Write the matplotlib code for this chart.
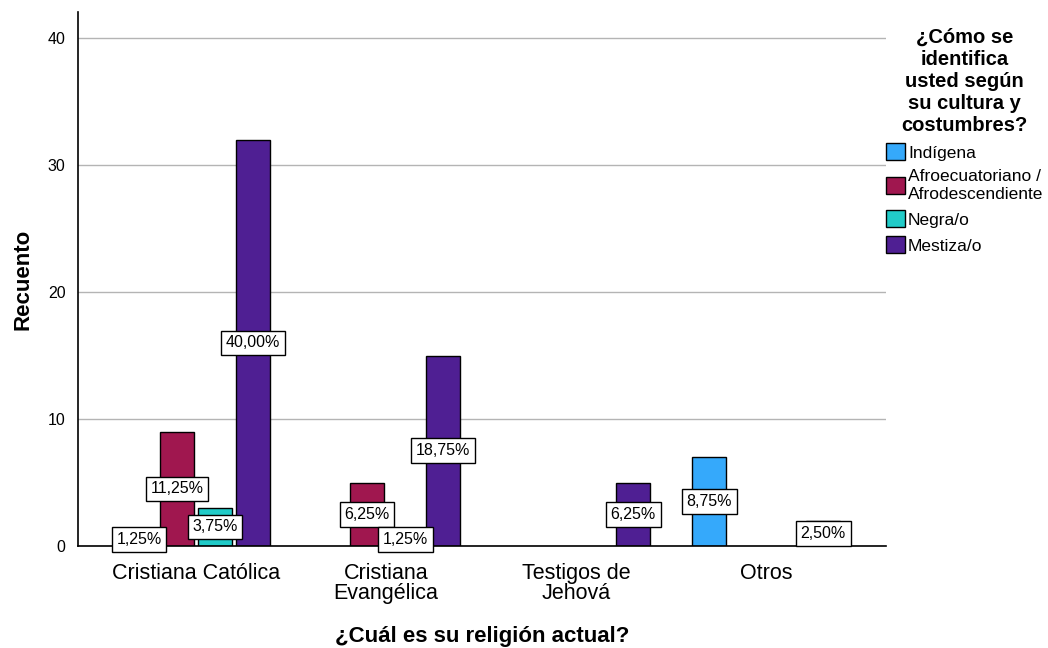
import numpy as np
import matplotlib.pyplot as plt
from matplotlib.patches import Patch

plt.rcParams['font.family'] = ['Liberation Sans', 'DejaVu Sans']

religiones = ["Cristiana Católica", "Cristiana\nEvangélica", "Testigos de\nJehová", "Otros"]
grupos = ["Indígena", "Afroecuatoriano /\nAfrodescendiente", "Negra/o", "Mestiza/o"]
colores = ["#35a9fb", "#a0174f", "#21cbc8", "#4f1f93"]

# counts per religion for each ethnic group (None = no bar)
indigena = [1, None, None, 7]
afro = [9, 5, None, None]
negra = [3, 1, None, None]
mestiza = [32, 15, 5, 2]
total = 80

series = [indigena, afro, negra, mestiza]

fig = plt.figure(figsize=(10.48, 6.48), dpi=100)
ax = fig.add_axes([0.0744, 0.1574, 0.7710, 0.8241])

x = np.arange(len(religiones))
width = 0.179
step = 0.2

for i, (vals, color) in enumerate(zip(series, colores)):
    offs = (i - 1.5) * step
    for xi, v in zip(x, vals):
        if v is None:
            continue
        ax.bar(xi + offs, v, width, color=color, edgecolor="black", linewidth=1, zorder=2)

# percentage labels in the middle of each bar
for i, vals in enumerate(series):
    offs = (i - 1.5) * step
    for xi, v in zip(x, vals):
        if v is None:
            continue
        pct = f"{100 * v / total:.2f}%".replace(".", ",")
        ax.text(xi + offs, v / 2, pct, ha="center", va="center", fontsize=11.5, zorder=4,
                bbox=dict(boxstyle="square,pad=0.3", facecolor="white", edgecolor="black", linewidth=1))

ax.set_xlim(-0.621, 3.63)
ax.set_ylim(0, 42.05)
ax.set_yticks([0, 10, 20, 30, 40])
ax.yaxis.grid(True, color="#b4b4b4", linewidth=1, zorder=0)
ax.set_axisbelow(True)
ax.set_xticks(x)
ax.set_xticklabels(religiones, fontsize=15.5, linespacing=0.95)
ax.tick_params(axis="x", length=0, pad=12)
ax.tick_params(axis="y", length=0, labelsize=11.5, pad=9)
for side in ["top", "right"]:
    ax.spines[side].set_visible(False)
for side in ["left", "bottom"]:
    ax.spines[side].set_linewidth(1.2)

ax.set_ylabel("Recuento", fontsize=16, fontweight="bold", labelpad=10)
ax.set_xlabel("¿Cuál es su religión actual?", fontsize=16, fontweight="bold", labelpad=16)

handles = [Patch(facecolor=c, edgecolor="black", label=g) for c, g in zip(colores, grupos)]
leg = fig.legend(handles=handles, loc="upper left", bbox_to_anchor=(0.839, 0.968),
                 frameon=False, fontsize=12.5, handlelength=1.1, handleheight=1.1,
                 handletextpad=0.15, labelspacing=0.5, borderaxespad=0,
                 title="¿Cómo se\nidentifica\nusted según\nsu cultura y\ncostumbres?",
                 title_fontproperties={"weight": "bold", "size": 14.5})
leg.get_title().set_multialignment("center")
leg.get_title().set_linespacing(1.2)

fig.savefig("out.png", dpi=100)
